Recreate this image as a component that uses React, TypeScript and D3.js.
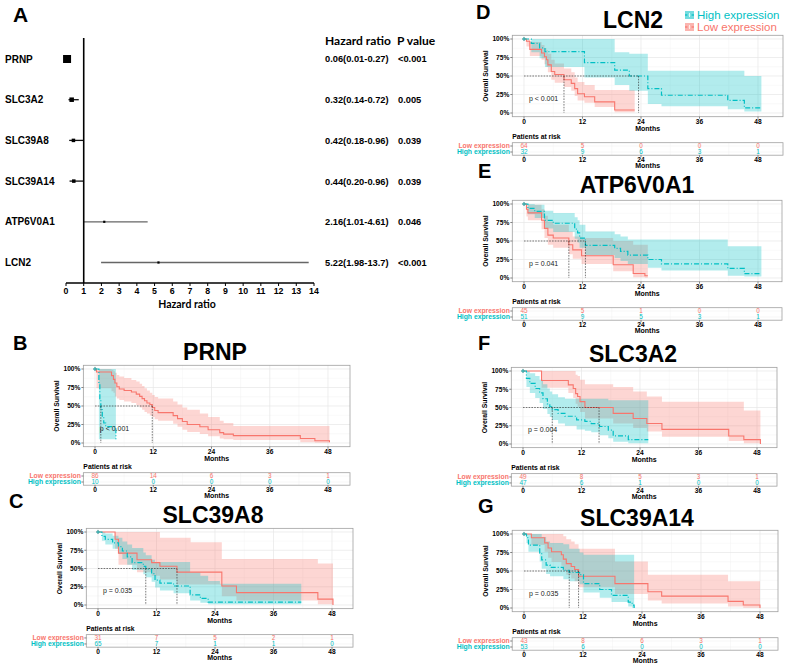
import React from 'react';
import * as d3 from 'd3';

type Row = [number, number, number, number]; // [month, survival %, lower %, upper %]

const RED = '#F8766D';
const TEAL = '#00BFC4';
const FONT = "'Liberation Sans', Arial, Helvetica, sans-serif";
const FONT2 = "Lato, 'Open Sans', sans-serif";

// ---------- Panel A: forest plot data ----------
const genes = ['PRNP', 'SLC3A2', 'SLC39A8', 'SLC39A14', 'ATP6V0A1', 'LCN2'];
const hr = [0.06, 0.32, 0.42, 0.44, 2.16, 5.22];
const hrLow = [0.01, 0.14, 0.18, 0.2, 1.01, 1.98];
const hrHigh = [0.27, 0.72, 0.96, 0.96, 4.61, 13.7];
const hrLabels = ['0.06(0.01-0.27)', '0.32(0.14-0.72)', '0.42(0.18-0.96)', '0.44(0.20-0.96)', '2.16(1.01-4.61)', '5.22(1.98-13.7)'];
const pLabels = ['<0.001', '0.005', '0.039', '0.039', '0.046', '<0.001'];
const hrTicks = [0, 1, 2, 3, 4, 5, 6, 7, 8, 9, 10, 11, 12, 13, 14];

// ---------- KM shared ----------
const monthTicks = [0, 12, 24, 36, 48];
const survTicks = [0, 25, 50, 75, 100];
const survTickLabels = ['0%', '25%', '50%', '75%', '100%'];

// PRNP
const prnpLow: Row[] = [
  [0, 100, 100, 100], [0.3, 96, 74, 100], [3.4, 91, 70, 99], [3.8, 86, 68, 97], [4.1, 81, 63, 95],
  [4.5, 76, 60, 92], [5.0, 73, 58, 90], [6.0, 71, 56, 88], [7.5, 69, 54, 85], [8.5, 66, 51, 83],
  [9.2, 63, 48, 80], [9.7, 60, 45, 77], [10.2, 57, 42, 74], [10.7, 54, 40, 71], [11.3, 52, 37, 68],
  [11.8, 48, 35, 65], [12.3, 44, 32, 62], [13.0, 41, 30, 60], [16.1, 37, 26, 56], [17.0, 33, 22, 52],
  [18.0, 29, 18, 48], [19.0, 25, 15, 45], [21.6, 22, 12, 40], [23.3, 18, 9, 35], [25.7, 14, 6, 30],
  [26.5, 12, 5, 27], [28.5, 10, 4, 23], [42.3, 6, 1, 23], [45.3, 3, 0.5, 23], [48.3, 1, 0, 23],
];
const prnpHigh: Row[] = [
  [0, 100, 100, 100], [0.8, 80, 5, 100], [1.0, 60, 5, 100], [1.2, 45, 5, 100], [1.5, 35, 5, 100],
  [1.8, 27, 5, 100], [2.2, 22, 5, 100], [4.3, 5, 5, 100],
];
const prnpRiskLow = [86, 14, 6, 3, 1];
const prnpRiskHigh = [10, 0, 0, 0, 0];

// SLC39A8
const slc39a8Low: Row[] = [
  [0, 100, 100, 100], [3.5, 90, 77, 100], [4.2, 71, 55, 100], [8.0, 62, 45, 100], [11.0, 58, 40, 100],
  [12.7, 53, 35, 92], [16.2, 45, 28, 92], [19.0, 45, 28, 86], [25.4, 26, 12, 63], [28.4, 17, 6, 63],
  [45.1, 8, 1, 57], [48.2, 0, 0, 0],
];
const slc39a8High: Row[] = [
  [0, 100, 100, 100], [0.8, 94, 88, 100], [1.5, 90, 83, 98], [3.0, 85, 77, 95], [4.2, 80, 70, 92],
  [5.0, 74, 63, 87], [6.0, 66, 55, 83], [7.0, 58, 48, 78], [9.3, 53, 42, 72], [9.8, 49, 38, 68],
  [11.0, 43, 32, 62], [11.7, 34, 24, 59], [12.7, 30, 20, 59], [15.5, 26, 16, 59], [18.9, 14, 6, 45],
  [21.0, 9, 3, 40], [22.6, 4, 1, 33], [25.0, 4, 1, 29], [41.7, 4, 1, 29],
];
const slc39a8RiskLow = [31, 7, 5, 2, 1];
const slc39a8RiskHigh = [65, 7, 1, 1, 0];

// LCN2
const lcn2Low: Row[] = [
  [0, 100, 100, 100], [0.5, 97, 90, 100], [1.2, 86, 77, 96], [3.6, 81, 72, 92], [4.2, 76, 66, 88],
  [4.6, 72, 62, 85], [4.9, 65, 55, 80], [5.6, 56, 45, 72], [6.3, 52, 41, 67], [8.2, 45, 35, 60],
  [9.7, 40, 30, 55], [10.4, 33, 23, 48], [11.0, 26, 17, 42], [12.4, 22, 14, 38], [14.5, 15, 8, 31],
  [18.6, 4, 1, 31], [22.7, 4, 1, 31],
];
const lcn2High: Row[] = [
  [0, 100, 100, 100], [1.5, 94, 82, 100], [3.2, 88, 74, 100], [4.3, 83, 62, 100], [12.4, 68, 48, 100],
  [18.6, 58, 38, 82], [21.6, 50, 30, 80], [25.4, 33, 12, 57], [28.2, 24, 9, 57], [41.8, 17, 5, 57],
  [45.2, 7, 2, 50], [48.7, 7, 2, 50],
];
const lcn2RiskLow = [64, 5, 0, 0, 0];
const lcn2RiskHigh = [32, 9, 6, 3, 1];

// ATP6V0A1
const atpLow: Row[] = [
  [0, 100, 100, 100], [0.5, 93, 83, 100], [0.8, 88, 78, 99], [3.6, 78, 66, 93], [4.2, 67, 54, 84],
  [4.9, 58, 45, 76], [6.0, 54, 41, 72], [9.2, 45, 32, 63], [10.0, 38, 26, 56], [11.8, 30, 19, 54],
  [18.3, 18, 9, 50], [22.4, 6, 1, 45], [24.8, 3, 0.5, 45], [25.4, 3, 0.5, 45],
];
const atpHigh: Row[] = [
  [0, 100, 100, 100], [0.8, 94, 86, 100], [2.2, 90, 81, 99], [4.2, 78, 67, 91], [6.0, 74, 62, 88],
  [10.4, 66, 53, 82], [11.0, 61, 48, 78], [11.4, 54, 41, 72], [12.6, 44, 31, 63], [18.6, 40, 27, 59],
  [19.8, 36, 23, 56], [21.3, 31, 19, 52], [25.4, 25, 14, 52], [28.2, 19, 10, 52], [41.8, 13, 3, 43],
  [45.2, 6, 2, 43], [48.7, 6, 2, 43],
];
const atpRiskLow = [45, 5, 1, 0, 0];
const atpRiskHigh = [51, 9, 5, 3, 1];

// SLC3A2
const slc3a2Low: Row[] = [
  [0, 100, 100, 100], [3.8, 87, 77, 100], [9.3, 81, 70, 100], [10.3, 76, 63, 100], [10.8, 69, 55, 95],
  [11.2, 65, 51, 93], [11.7, 58, 44, 88], [12.7, 50, 35, 82], [18.5, 42, 28, 78], [22.6, 35, 22, 72],
  [25.4, 28, 17, 65], [28.5, 20, 10, 58], [42.2, 11, 4, 58], [45.3, 6, 1, 46], [48.7, 0, 0, 0],
];
const slc3a2High: Row[] = [
  [0, 100, 100, 100], [0.7, 90, 78, 100], [1.4, 83, 70, 97], [2.5, 76, 63, 93], [3.4, 70, 56, 88],
  [4.1, 62, 48, 82], [5.0, 55, 41, 76], [5.5, 51, 37, 72], [6.0, 47, 33, 68], [7.2, 42, 28, 64],
  [8.6, 38, 25, 62], [11.0, 33, 20, 62], [12.7, 31, 18, 62], [14.0, 28, 16, 62], [15.7, 24, 12, 62],
  [17.5, 19, 8, 60], [18.5, 11, 3, 60], [21.6, 6, 1, 60], [25.7, 6, 1, 60],
];
const slc3a2RiskLow = [49, 8, 5, 3, 1];
const slc3a2RiskHigh = [47, 6, 1, 0, 0];

// SLC39A14
const slc39a14Low: Row[] = [
  [0, 100, 100, 100], [1.5, 95, 85, 100], [4.2, 88, 76, 100], [4.9, 81, 68, 100], [5.6, 76, 62, 100],
  [7.6, 72, 57, 100], [8.0, 66, 51, 97], [8.6, 60, 45, 93], [9.6, 56, 40, 90], [10.3, 52, 36, 86],
  [11.1, 43, 28, 80], [18.5, 33, 19, 63], [25.2, 22, 10, 45], [28.0, 16, 6, 45], [41.5, 9, 2, 36],
  [44.6, 4, 0.5, 36], [48.0, 0, 0, 0],
];
const slc39a14High: Row[] = [
  [0, 100, 100, 100], [0.5, 95, 88, 100], [0.9, 85, 76, 100], [3.2, 74, 63, 100], [3.6, 65, 53, 96],
  [4.5, 58, 46, 90], [5.3, 55, 43, 88], [8.0, 51, 39, 86], [9.2, 48, 36, 80], [11.3, 45, 32, 75],
  [12.1, 33, 21, 72], [15.4, 25, 14, 72], [17.8, 17, 8, 72], [21.2, 8, 2, 72], [22.0, 4, 0.5, 72],
  [22.4, 0, 0, 0],
];
const slc39a14RiskLow = [43, 8, 6, 3, 1];
const slc39a14RiskHigh = [53, 6, 0, 0, 0];

interface Geom {
  x0: number; x48: number; y100: number; y0: number; right: number;
  labelX: number; labelY: number; titleX: number; titleY: number;
}
interface Panel {
  label: string; title: string; low: Row[]; high: Row[]; pval: string;
  riskLow: number[]; riskHigh: number[]; geom: Geom; legend?: boolean;
}

const panels: Panel[] = [
  { label: 'B', title: 'PRNP', low: prnpLow, high: prnpHigh, pval: 'p < 0.001', riskLow: prnpRiskLow, riskHigh: prnpRiskHigh,
    geom: { x0: 95, x48: 328, y100: 369, y0: 443, right: 350, labelX: 13, labelY: 350, titleX: 215, titleY: 360 } },
  { label: 'C', title: 'SLC39A8', low: slc39a8Low, high: slc39a8High, pval: 'p = 0.035', riskLow: slc39a8RiskLow, riskHigh: slc39a8RiskHigh,
    geom: { x0: 98, x48: 332, y100: 532, y0: 605, right: 353, labelX: 9, labelY: 508, titleX: 213, titleY: 523 } },
  { label: 'D', title: 'LCN2', low: lcn2Low, high: lcn2High, pval: 'p < 0.001', riskLow: lcn2RiskLow, riskHigh: lcn2RiskHigh, legend: true,
    geom: { x0: 524, x48: 758, y100: 39, y0: 113, right: 783, labelX: 476, labelY: 19, titleX: 633, titleY: 28 } },
  { label: 'E', title: 'ATP6V0A1', low: atpLow, high: atpHigh, pval: 'p = 0.041', riskLow: atpRiskLow, riskHigh: atpRiskHigh,
    geom: { x0: 524, x48: 758, y100: 204, y0: 278, right: 782, labelX: 478, labelY: 178, titleX: 637, titleY: 193 } },
  { label: 'F', title: 'SLC3A2', low: slc3a2Low, high: slc3a2High, pval: 'p = 0.004', riskLow: slc3a2RiskLow, riskHigh: slc3a2RiskHigh,
    geom: { x0: 523, x48: 757, y100: 371, y0: 444, right: 777, labelX: 478, labelY: 350, titleX: 633, titleY: 362 } },
  { label: 'G', title: 'SLC39A14', low: slc39a14Low, high: slc39a14High, pval: 'p = 0.035', riskLow: slc39a14RiskLow, riskHigh: slc39a14RiskHigh,
    geom: { x0: 524, x48: 760, y100: 534, y0: 608, right: 778, labelX: 478, labelY: 513, titleX: 637, titleY: 526 } },
];

function median(rows: Row[]): number | null {
  for (let i = 0; i < rows.length; i++) {
    if (rows[i][1] < 50) return rows[i][0];
    if (rows[i][1] === 50) return i + 1 < rows.length ? (rows[i][0] + rows[i + 1][0]) / 2 : rows[i][0];
  }
  return null;
}

function Forest() {
  const fx = d3.scaleLinear().domain([0, 14]).range([66, 314]);
  const fy = d3.scalePoint<string>().domain(genes).range([59, 262.5]);
  const sq = [8, 4.5, 3.5, 3.5, 2.2, 2.2];
  const axisY = 283;
  return (
    <g>
      <text x={13} y={22} fontSize={21} fontWeight="bold">A</text>
      <text x={325} y={45} fontSize={12} fontWeight="bold" fontFamily={FONT2}>Hazard ratio</text>
      <text x={397} y={45} fontSize={12} fontWeight="bold" fontFamily={FONT2}>P value</text>
      {genes.map((gn, i) => {
        const cy = fy(gn) as number;
        return (
          <g key={gn}>
            <text x={5} y={cy + 3.6} fontSize={10} fontWeight="bold">{gn}</text>
            <line x1={fx(hrLow[i])} x2={fx(hrHigh[i])} y1={cy} y2={cy} stroke={i >= 4 ? '#666' : '#111'} strokeWidth={1.3} />
            <rect x={fx(hr[i]) - sq[i] / 2} y={cy - sq[i] / 2} width={sq[i]} height={sq[i]} fill="#000" />
            <text x={325} y={cy + 3.4} fontSize={9.3} fontWeight="bold">{hrLabels[i]}</text>
            <text x={398} y={cy + 3.4} fontSize={9.3} fontWeight="bold">{pLabels[i]}</text>
          </g>
        );
      })}
      <line x1={fx(1)} x2={fx(1)} y1={38} y2={axisY} stroke="#000" strokeWidth={1.6} />
      <line x1={fx(0)} x2={fx(14)} y1={axisY} y2={axisY} stroke="#000" strokeWidth={1.3} />
      {hrTicks.map((t) => (
        <g key={t}>
          <line x1={fx(t)} x2={fx(t)} y1={axisY} y2={axisY + 3} stroke="#000" strokeWidth={1} />
          <text x={fx(t)} y={294} fontSize={8.8} fontWeight="bold" textAnchor="middle">{t}</text>
        </g>
      ))}
      <text x={187} y={308} fontSize={10.5} fontWeight="bold" textAnchor="middle" fontFamily={FONT2}>Hazard ratio</text>
    </g>
  );
}

function KM({ p }: { p: Panel }) {
  const g = p.geom;
  const x = d3.scaleLinear().domain([0, 48]).range([g.x0, g.x48]);
  const y = d3.scaleLinear().domain([0, 100]).range([g.y0, g.y100]);
  const left = x(-2.4);
  const right = g.right;
  const top = y(105);
  const bottom = y(-5);
  const line = d3.line<Row>().x((d) => x(d[0])).y((d) => y(d[1])).curve(d3.curveStepAfter);
  const area = d3.area<Row>().x((d) => x(d[0])).y0((d) => y(d[2])).y1((d) => y(d[3])).curve(d3.curveStepAfter);
  const meds = [median(p.high), median(p.low)].filter((m) => m !== null) as number[];
  const medMax = Math.max(...meds);
  const minorX = [6, 18, 30, 42];
  const minorY = [12.5, 37.5, 62.5, 87.5];
  const tTop = bottom + 26;
  const tBot = bottom + 38.5;
  const r1 = tTop + 3.3;
  const r2 = tTop + 9.3;
  const fs = 6.6;
  const plus = (cx: number, cy: number, c: string, k: string) => (
    <g key={k} stroke={c} strokeWidth={0.9}>
      <line x1={cx - 2} x2={cx + 2} y1={cy} y2={cy} />
      <line x1={cx} x2={cx} y1={cy - 2} y2={cy + 2} />
    </g>
  );
  return (
    <g>
      <text x={g.labelX} y={g.labelY} fontSize={20} fontWeight="bold">{p.label}</text>
      <text x={g.titleX} y={g.titleY} fontSize={23} fontWeight="bold" textAnchor="middle">{p.title}</text>
      {/* plot panel */}
      <rect x={left} y={top} width={right - left} height={bottom - top} fill="#fff" />
      {minorX.map((v) => <line key={'mx' + v} x1={x(v)} x2={x(v)} y1={top} y2={bottom} stroke="#F3F3F3" strokeWidth={0.5} />)}
      {minorY.map((v) => <line key={'my' + v} x1={left} x2={right} y1={y(v)} y2={y(v)} stroke="#F3F3F3" strokeWidth={0.5} />)}
      {monthTicks.map((v) => <line key={'gx' + v} x1={x(v)} x2={x(v)} y1={top} y2={bottom} stroke="#E6E6E6" strokeWidth={0.7} />)}
      {survTicks.map((v) => <line key={'gy' + v} x1={left} x2={right} y1={y(v)} y2={y(v)} stroke="#E6E6E6" strokeWidth={0.7} />)}
      <path d={area(p.low) || ''} fill={RED} fillOpacity={0.3} />
      <path d={area(p.high) || ''} fill={TEAL} fillOpacity={0.3} />
      <path d={line(p.low) || ''} fill="none" stroke={RED} strokeWidth={1.1} />
      <path d={line(p.high) || ''} fill="none" stroke={TEAL} strokeWidth={1.2} strokeDasharray="5 2 1 2" />
      {plus(x(0), y(100), RED, 'pr')}
      {plus(x(0), y(100), TEAL, 'pt')}
      <line x1={x(0)} x2={x(medMax)} y1={y(50)} y2={y(50)} stroke="#222" strokeWidth={0.6} strokeDasharray="1.6 1.2" />
      {meds.map((m, i) => (
        <line key={'md' + i} x1={x(m)} x2={x(m)} y1={y(50)} y2={y(0)} stroke="#222" strokeWidth={0.6} strokeDasharray="1.6 1.2" />
      ))}
      <text x={x(1)} y={y(20) + 2.5} fontSize={7} fill="#222">{p.pval}</text>
      <rect x={left} y={top} width={right - left} height={bottom - top} fill="none" stroke="#A0A0A0" strokeWidth={0.8} />
      {/* y axis */}
      {survTicks.map((v, i) => (
        <g key={'yt' + v}>
          <line x1={left - 2} x2={left} y1={y(v)} y2={y(v)} stroke="#333" strokeWidth={0.6} />
          <text x={left - 3} y={y(v) + 2.3} fontSize={fs} fontWeight="bold" textAnchor="end">{survTickLabels[i]}</text>
        </g>
      ))}
      <text transform={`translate(${left - 24},${(top + bottom) / 2}) rotate(-90)`} fontSize={6.8} fontWeight="bold" textAnchor="middle">Overall Survival</text>
      {/* x axis */}
      {monthTicks.map((v) => (
        <g key={'xt' + v}>
          <line x1={x(v)} x2={x(v)} y1={bottom} y2={bottom + 2} stroke="#333" strokeWidth={0.6} />
          <text x={x(v)} y={bottom + 7} fontSize={fs} fontWeight="bold" textAnchor="middle">{v}</text>
        </g>
      ))}
      <text x={(left + right) / 2} y={bottom + 14} fontSize={7} fontWeight="bold" textAnchor="middle">Months</text>
      {/* risk table */}
      <text x={left} y={bottom + 22.5} fontSize={6.8} fontWeight="bold">Patients at risk</text>
      <rect x={left} y={tTop} width={right - left} height={tBot - tTop} fill="#fff" />
      {minorX.map((v) => <line key={'tmx' + v} x1={x(v)} x2={x(v)} y1={tTop} y2={tBot} stroke="#F3F3F3" strokeWidth={0.5} />)}
      {monthTicks.map((v) => <line key={'tgx' + v} x1={x(v)} x2={x(v)} y1={tTop} y2={tBot} stroke="#E6E6E6" strokeWidth={0.7} />)}
      {[r1, r2].map((ry, i) => <line key={'tgy' + i} x1={left} x2={right} y1={ry} y2={ry} stroke="#EEEEEE" strokeWidth={0.5} />)}
      <rect x={left} y={tTop} width={right - left} height={tBot - tTop} fill="none" stroke="#A0A0A0" strokeWidth={0.8} />
      <line x1={left - 2} x2={left} y1={r1} y2={r1} stroke="#333" strokeWidth={0.6} />
      <line x1={left - 2} x2={left} y1={r2} y2={r2} stroke="#333" strokeWidth={0.6} />
      <text x={left - 2.5} y={r1 + 2.3} fontSize={6.8} fontWeight="bold" textAnchor="end" fill={RED}>Low expression</text>
      <text x={left - 2.5} y={r2 + 2.3} fontSize={6.8} fontWeight="bold" textAnchor="end" fill={TEAL}>High expression</text>
      {monthTicks.map((v, i) => (
        <g key={'rk' + v}>
          <text x={x(v)} y={r1 + 2.3} fontSize={6.4} textAnchor="middle" fill={RED}>{p.riskLow[i]}</text>
          <text x={x(v)} y={r2 + 2.3} fontSize={6.4} textAnchor="middle" fill={TEAL}>{p.riskHigh[i]}</text>
          <line x1={x(v)} x2={x(v)} y1={tBot} y2={tBot + 2} stroke="#333" strokeWidth={0.6} />
          <text x={x(v)} y={tBot + 7} fontSize={fs} fontWeight="bold" textAnchor="middle">{v}</text>
        </g>
      ))}
      <text x={(left + right) / 2} y={tBot + 13} fontSize={7} fontWeight="bold" textAnchor="middle">Months</text>
      {p.legend && (
        <g>
          <rect x={685} y={11} width={9} height={8} fill={TEAL} fillOpacity={0.55} />
          <line x1={685} x2={694} y1={15} y2={15} stroke={TEAL} strokeWidth={1.2} />
          {plus(689.5, 15, '#E8FFFF', 'lp1')}
          <rect x={685} y={23} width={9} height={8} fill={RED} fillOpacity={0.55} />
          <line x1={685} x2={694} y1={27} y2={27} stroke={RED} strokeWidth={1.2} />
          {plus(689.5, 27, '#FFF0EE', 'lp2')}
          <text x={697} y={19} fontSize={11.5} fill={TEAL}>High expression</text>
          <text x={697} y={31} fontSize={11.5} fill={RED}>Low expression</text>
        </g>
      )}
    </g>
  );
}

export default function App() {
  return (
    <svg
      width={785}
      height={667}
      viewBox="0 0 785 667"
      style={{ position: 'absolute', left: 0, top: 0, background: '#fff' }}
      fontFamily={FONT}
    >
      <rect x={0} y={0} width={785} height={667} fill="#fff" />
      <Forest />
      {panels.map((p) => <KM key={p.label} p={p} />)}
    </svg>
  );
}
